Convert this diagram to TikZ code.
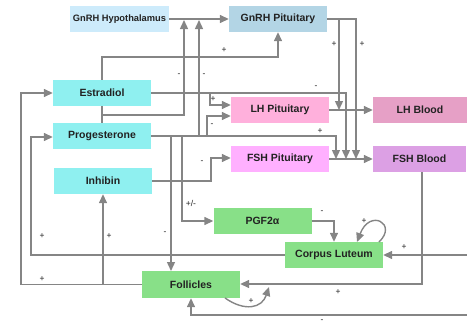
\documentclass[tikz,border=0pt]{standalone}
\usepackage{fontspec}
\setmainfont{Liberation Sans}
\usetikzlibrary{arrows.meta}
\definecolor{lc}{HTML}{858585}
\definecolor{cHyp}{HTML}{CDEBFB}
\definecolor{cGpit}{HTML}{B3D5E5}
\definecolor{cCyan}{HTML}{8FF0F0}
\definecolor{cLHp}{HTML}{FFB0DC}
\definecolor{cLHb}{HTML}{E6A0C6}
\definecolor{cFSHp}{HTML}{FFB0FF}
\definecolor{cFSHb}{HTML}{DCA0E4}
\definecolor{cGreen}{HTML}{88E088}
\definecolor{txt}{HTML}{222222}
\tikzset{
  box/.style={draw=none, minimum width=98pt, minimum height=26pt, inner sep=0pt, text=txt,
    font=\bfseries\fontsize{10.5}{12}\selectfont},
  ln/.style={draw=lc, line width=1.4pt},
  arr/.style={ln, -{Triangle[length=9pt,width=8pt]}, lc},
  lbl/.style={font=\fontsize{8.5}{9}\selectfont, text=txt, inner sep=0pt}
}
\begin{document}
\begin{tikzpicture}[x=1pt,y=-1pt]
\path[use as bounding box] (0,0) rectangle (467,324);
% nodes
\node[box, fill=cHyp, minimum width=99pt, font=\bfseries\fontsize{9.3}{11}\selectfont] (hyp) at (119.5,19) {GnRH Hypothalamus};
\node[box, fill=cGpit] (gpit) at (278,19) {GnRH Pituitary};
\node[box, fill=cCyan] (est) at (102,93) {Estradiol};
\node[box, fill=cCyan] (prog) at (102,136) {Progesterone};
\node[box, fill=cCyan] (inh) at (103,181) {Inhibin};
\node[box, fill=cLHp] (lhp) at (280,110) {LH Pituitary};
\node[box, fill=cLHb, minimum width=94pt] (lhb) at (420,110) {LH Blood};
\node[box, fill=cFSHp] (fshp) at (280,159) {FSH Pituitary};
\node[box, fill=cFSHb, minimum width=93pt] (fshb) at (419.5,159) {FSH Blood};
\node[box, fill=cGreen] (pgf) at (262.5,221) {PGF2α};
\node[box, fill=cGreen] (cl) at (334,255) {Corpus Luteum};
\node[box, fill=cGreen, minimum height=27pt] (fol) at (191,284.5) {Follicles};
\coordinate (rin) at (467,255);
\coordinate (bot) at (467,315);
% connectors
\draw[arr] (hyp.east) -- (gpit.west);
\draw[arr] (est.north) -- (102,57) -| (gpit.south);
\draw[arr] (est.south) -- (102,115) -- (184,115) -- (184,20);
\draw[ln] (prog.north) -- (102,115);
\draw[arr] (prog.east) -| (199,20);
\draw[arr] (est.east) -| (346,159);
\draw[arr] (210,93) -- (210,105) -- (lhp.west |- 0,105);
\draw[arr] (207,136) -- (207,116) -- (lhp.west |- 0,116);
\draw[arr] (prog.east) -| (336,159);
\draw[arr] (gpit.east) -| (339,110);
\draw[arr] (gpit.east) -| (356,159);
\draw[arr] (lhp.east) -- (lhb.west);
\draw[arr] (fshp.east) -- (fshb.west);
\draw[arr] (inh.east) -- (211,181) -- (211,158) -- (fshp.west |- 0,158);
\draw[arr] (171,136) -- (171,271);
\draw[arr] (182,136) -- (182,221) -- (pgf.west);
\draw[arr] (cl.west) -- (31,255) -- (31,137) -- (prog.west |- 0,137);
\draw[arr] (fol.west) -- (21,284.5) -- (21,93) -- (est.west);
\draw[arr] (103,284.5) -- (inh.south);
\draw[arr] (pgf.east) -| (cl.north);
\draw[arr] (379,242) .. controls (398,224) and (370,208) .. (357,242);
\draw[arr] (rin) -- (cl.east);
\draw[arr] (422,172) -- (422,284) -- (fol.east |- 0,284);
\draw[arr] (225,298) .. controls (245,312) and (262,308) .. (269,287);
\draw[arr] (bot) -- (191,315) -- (fol.south);
% labels
\node[lbl] at (224,50) {+};
\node[lbl] at (179,75) {-};
\node[lbl] at (204,75) {-};
\node[lbl] at (334,44) {+};
\node[lbl] at (362,44) {+};
\node[lbl] at (316,87) {-};
\node[lbl] at (213,99) {+};
\node[lbl] at (212,125) {-};
\node[lbl] at (320,131) {+};
\node[lbl] at (202,162) {-};
\node[lbl] at (191,203) {+/-};
\node[lbl] at (165,233) {-};
\node[lbl] at (42,236) {+};
\node[lbl] at (109,236) {+};
\node[lbl] at (42,279) {+};
\node[lbl] at (322,212) {-};
\node[lbl] at (364,221) {+};
\node[lbl] at (404,247) {+};
\node[lbl] at (338,292) {+};
\node[lbl] at (251,301) {+};
\node[lbl] at (322,321) {-};
\end{tikzpicture}
\end{document}
